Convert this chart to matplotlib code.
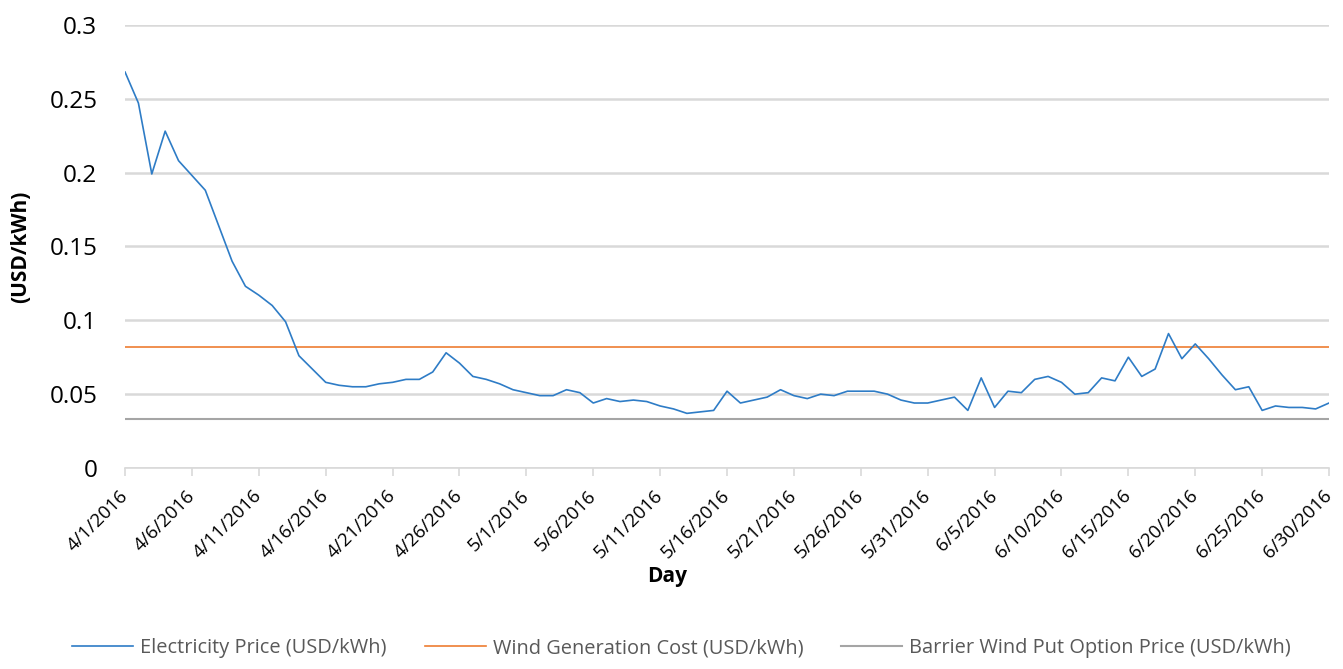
import matplotlib
matplotlib.use('Agg')
import matplotlib.pyplot as plt
import pandas as pd

plt.rcParams['font.family'] = ['Open Sans', 'DejaVu Sans']

# ── 数据 ──
start_date = '2016-04-01'
end_date = '2016-06-30'
electricity_price = [
    0.268, 0.247, 0.199, 0.228, 0.208, 0.198, 0.188, 0.164, 0.140, 0.123,
    0.117, 0.110, 0.099, 0.076, 0.067, 0.058, 0.056, 0.055, 0.055, 0.057,
    0.058, 0.060, 0.060, 0.065, 0.078, 0.071, 0.062, 0.060, 0.057, 0.053,
    0.051, 0.049, 0.049, 0.053, 0.051, 0.044, 0.047, 0.045, 0.046, 0.045,
    0.042, 0.040, 0.037, 0.038, 0.039, 0.052, 0.044, 0.046, 0.048, 0.053,
    0.049, 0.047, 0.050, 0.049, 0.052, 0.052, 0.052, 0.050, 0.046, 0.044,
    0.044, 0.046, 0.048, 0.039, 0.061, 0.041, 0.052, 0.051, 0.060, 0.062,
    0.058, 0.050, 0.051, 0.061, 0.059, 0.075, 0.062, 0.067, 0.091, 0.074,
    0.084, 0.074, 0.063, 0.053, 0.055, 0.039, 0.042, 0.041, 0.041, 0.040,
    0.044,
]
wind_cost = 0.0818
barrier_put_price = 0.0333
y_ticks = [0, 0.05, 0.1, 0.15, 0.2, 0.25, 0.3]
y_tick_labels = ['0', '0.05', '0.1', '0.15', '0.2', '0.25', '0.3']

days = pd.date_range(start_date, end_date, freq='D')
df = pd.DataFrame({'day': days, 'price': electricity_price})
df['wind'] = wind_cost
df['barrier'] = barrier_put_price

# ── 绘图 ──
fig = plt.figure(figsize=(13.43, 6.69), dpi=100)
ax = fig.add_axes([0.0931, 0.3004, 0.8965, 0.6626])

ax.plot(df['day'], df['price'], color='#2E7CC6', linewidth=1.2,
        label='Electricity Price (USD/kWh)', zorder=3)
ax.plot(df['day'], df['wind'], color='#ED7D31', linewidth=1.2,
        label='Wind Generation Cost (USD/kWh)', zorder=2)
ax.plot(df['day'], df['barrier'], color='#A5A5A5', linewidth=1.5,
        label='Barrier Wind Put Option Price (USD/kWh)', zorder=2)

ax.set_xlim(days[0], days[-1])
ax.set_ylim(0, 0.3)
ax.set_yticks(y_ticks)
ax.set_yticklabels(y_tick_labels)
ax.yaxis.grid(True, color='#D9D9D9', linewidth=1.8)
ax.set_axisbelow(True)

tick_days = days[::5]
ax.set_xticks(tick_days)
ax.set_xticklabels([f'{d.month}/{d.day}/{d.year}' for d in tick_days],
                   rotation=45, ha='right', va='center',
                   rotation_mode='anchor', fontsize=13.5)
ax.tick_params(axis='x', direction='out', length=6, width=1.2,
               color='#D9D9D9', pad=12)
ax.tick_params(axis='y', length=0, pad=20, labelsize=17.5)

for side in ['top', 'right', 'left']:
    ax.spines[side].set_visible(False)
ax.spines['bottom'].set_color('#D9D9D9')
ax.spines['bottom'].set_linewidth(1.2)

ax.set_ylabel('(USD/kWh)', fontsize=15, fontweight='bold', va='center')
ax.yaxis.set_label_coords(-0.087, 0.5)
ax.set_xlabel('Day', fontsize=15, fontweight='bold', va='center')
ax.xaxis.set_label_coords(0.45, -0.244)

fig.legend(loc='center', bbox_to_anchor=(0.5075, 0.031), ncol=3,
           frameon=False, fontsize=14.4, handlelength=3.05,
           columnspacing=1.9, handletextpad=0.35, labelcolor='#595959')

plt.savefig('out.png', dpi=100)
plt.close()
print('已保存: out.png')
